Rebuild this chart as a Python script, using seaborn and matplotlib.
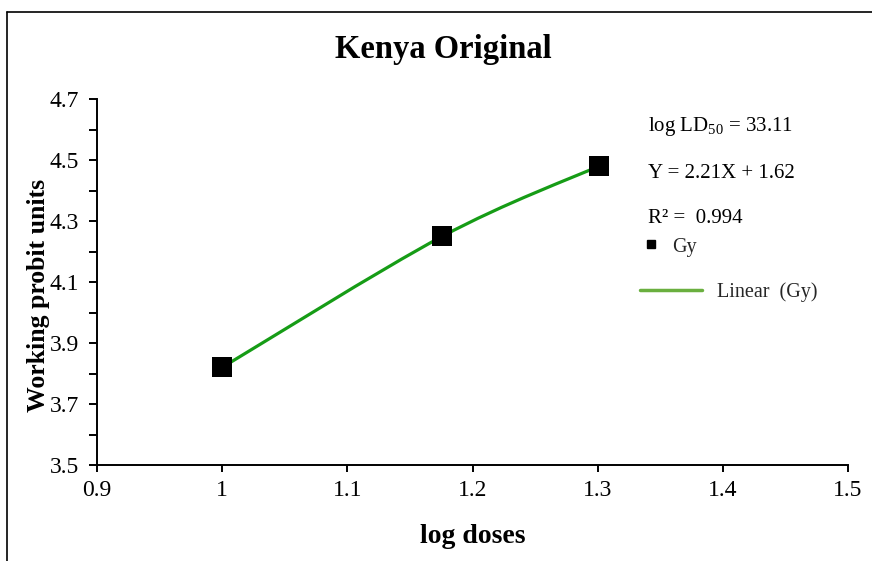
import numpy as np
import matplotlib
matplotlib.use("Agg")
import matplotlib.pyplot as plt
from matplotlib.path import Path
from matplotlib.patches import PathPatch
from matplotlib.lines import Line2D
import seaborn as sns
import pandas as pd

# Probit data
log_dose = [1.0, 1.176, 1.301]
probit = [3.82, 4.25, 4.48]
series_name = "Gy"

title = "Kenya Original"
x_label = "log doses"
y_label = "Working probit units"
x_ticks = [0.9, 1.0, 1.1, 1.2, 1.3, 1.4, 1.5]
x_tick_labels = ["0.9", "1", "1.1", "1.2", "1.3", "1.4", "1.5"]
y_ticks = [3.5, 3.7, 3.9, 4.1, 4.3, 4.5, 4.7]
ld50_text = "log LD$_{50}$ = 33.11"
equation_text = "Y = 2.21X + 1.62"
r2_text = "R\u00b2 =  0.994"
trend_label = "Linear  (Gy)"

sns.set_theme(style="white")
plt.rcParams["font.family"] = ["Liberation Serif", "DejaVu Serif"]
plt.rcParams["mathtext.fontset"] = "custom"
plt.rcParams["mathtext.rm"] = "Liberation Serif"
plt.rcParams["mathtext.it"] = "Liberation Serif:italic"
plt.rcParams["mathtext.bf"] = "Liberation Serif:bold"

W, H = 872, 561
fig = plt.figure(figsize=(W / 100, H / 100), dpi=100)
ax = fig.add_axes([97 / W, 1 - 465 / H, (848 - 97) / W, (465 - 99) / H])

df = pd.DataFrame({"x": log_dose, "y": probit})

# Smoothed connecting curve (Catmull-Rom as cubic Bezier segments)
pts = np.column_stack([log_dose, probit])
verts = [tuple(pts[0])]
codes = [Path.MOVETO]
n = len(pts)
for i in range(n - 1):
    p0 = pts[max(i - 1, 0)]
    p1 = pts[i]
    p2 = pts[i + 1]
    p3 = pts[min(i + 2, n - 1)]
    c1 = p1 + (p2 - p0) / 6.0
    c2 = p2 - (p3 - p1) / 6.0
    verts += [tuple(c1), tuple(c2), tuple(p2)]
    codes += [Path.CURVE4] * 3
curve = PathPatch(Path(verts, codes), facecolor="none", edgecolor="#169C16",
                  lw=2.3, capstyle="round", joinstyle="round", zorder=2)
ax.add_patch(curve)

sns.scatterplot(data=df, x="x", y="y", marker="s", s=190, color="black",
                linewidth=0, ax=ax, zorder=3)

ax.set_xlim(0.9, 1.5)
ax.set_ylim(3.5, 4.7)
ax.set_xticks(x_ticks)
ax.set_xticklabels(x_tick_labels)
ax.set_yticks(y_ticks)
ax.set_yticklabels([f"{v:.1f}" for v in y_ticks])
ax.set_yticks(np.round(np.arange(3.6, 4.7, 0.2), 2), minor=True)

for s in ["top", "right"]:
    ax.spines[s].set_visible(False)
for s in ["left", "bottom"]:
    ax.spines[s].set_color("black")
    ax.spines[s].set_linewidth(1.4)

ax.tick_params(axis="both", which="both", direction="out", width=1.4,
               color="black", labelsize=17, labelcolor="black",
               bottom=True, left=True, top=False, right=False)
ax.tick_params(axis="x", which="both", length=5, pad=6)
ax.tick_params(axis="y", which="both", length=6, pad=7)
ax.grid(False)

ax.set_xlabel(x_label, fontsize=20, fontweight="bold", color="black")
ax.set_ylabel(y_label, fontsize=18.5, fontweight="bold", color="black")
ax.xaxis.set_label_coords(0.5, -0.161)
ax.yaxis.set_label_coords(-0.0626, 0.4645)

fig.text(443 / W, 1 - 49 / H, title, fontsize=23.5, fontweight="bold",
         ha="center", va="center", color="black")

# Trendline annotations
for txt, ypix in [(ld50_text, 126), (equation_text, 173), (r2_text, 218)]:
    fig.text(648 / W, 1 - ypix / H, txt, fontsize=15, ha="left",
             va="center", color="black")

# Legend entries
leg1 = ax.legend(handles=[Line2D([], [], marker="s", color="black", ls="none",
                                 markersize=5.5)],
                 labels=[series_name], loc="center left",
                 bbox_to_anchor=(642 / W, 1 - 247 / H),
                 bbox_transform=fig.transFigure, frameon=False, borderpad=0,
                 borderaxespad=0, handlelength=0.9, handletextpad=0.6,
                 fontsize=14.5)
ax.add_artist(leg1)
ax.legend(handles=[Line2D([], [], color="#6AAF3F", lw=2.5)],
          labels=[trend_label], loc="center left",
          bbox_to_anchor=(640 / W, 1 - 292 / H),
          bbox_transform=fig.transFigure, frameon=False, borderpad=0,
          borderaxespad=0, handlelength=3.08, handletextpad=0.72,
          fontsize=14.5)

# Outer frame (top and left edges)
fig.add_artist(Line2D([7 / W, 1.0], [1 - 11.5 / H, 1 - 11.5 / H],
                      transform=fig.transFigure, color="black", lw=1.2))
fig.add_artist(Line2D([7 / W, 7 / W], [0.0, 1 - 11.5 / H],
                      transform=fig.transFigure, color="black", lw=1.2))

fig.savefig("out.png", dpi=100, facecolor="white")
